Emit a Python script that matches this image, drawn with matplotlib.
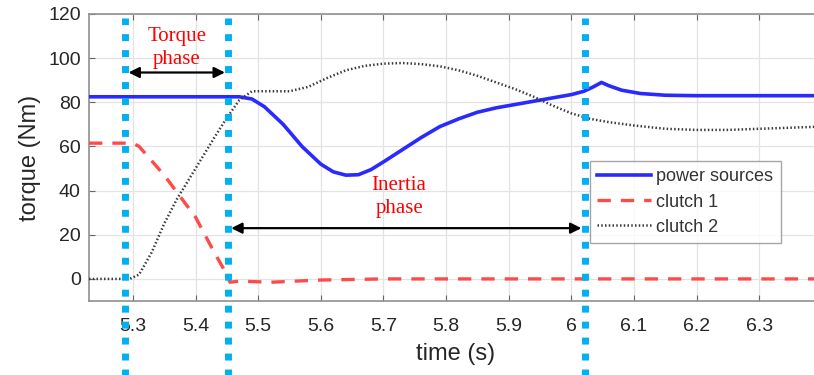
import numpy as np
import matplotlib.pyplot as plt

# traces
t_power = [5.23, 5.30, 5.40, 5.47, 5.49, 5.51, 5.54, 5.57, 5.60, 5.62, 5.64, 5.66,
           5.68, 5.70, 5.73, 5.76, 5.79, 5.82, 5.85, 5.88, 5.91, 5.94, 5.97, 6.00,
           6.02, 6.035, 6.048, 6.06, 6.08, 6.11, 6.15, 6.20, 6.30, 6.40]
power = [82.5, 82.5, 82.5, 82.5, 81.5, 78, 70, 60, 52, 48.5, 47, 47.2,
         49.5, 53, 58.5, 64, 69, 72.5, 75.5, 77.5, 79, 80.5, 82, 83.5,
         85, 87, 89, 87.5, 85.5, 84, 83.2, 83, 83, 83]

t_c1 = [5.23, 5.30, 5.31, 5.35, 5.40, 5.43, 5.45, 5.455, 5.47, 5.52, 5.56, 5.60, 5.70, 6.40]
clutch1 = [61.5, 61.5, 60, 47, 28, 12, 2, -1.5, -1, -1.5, -1, -0.5, 0, 0]

t_c2 = [5.23, 5.295, 5.31, 5.33, 5.35, 5.37, 5.40, 5.43, 5.45, 5.47, 5.49, 5.52,
        5.55, 5.58, 5.61, 5.64, 5.67, 5.70, 5.73, 5.76, 5.79, 5.82, 5.85, 5.88,
        5.91, 5.94, 5.97, 6.00, 6.03, 6.06, 6.10, 6.15, 6.20, 6.25, 6.30, 6.35, 6.40]
clutch2 = [0, 0, 2, 12, 25, 36, 50, 64, 73, 81, 85, 85,
           85, 87, 91, 94.5, 96.5, 97.5, 97.8, 97.3, 96.3, 94.5, 92, 89,
           86, 82.5, 78.5, 75, 72.5, 71, 69.5, 68, 67.5, 67.5, 68, 68.5, 69]

phase_marks = [5.288, 5.452, 6.021]
xticks = [5.3, 5.4, 5.5, 5.6, 5.7, 5.8, 5.9, 6.0, 6.1, 6.2, 6.3]
xticklabels = ['5.3', '5.4', '5.5', '5.6', '5.7', '5.8', '5.9', '6', '6.1', '6.2', '6.3']
yticks = [0, 20, 40, 60, 80, 100, 120]

plt.rcParams['font.family'] = ['Liberation Sans', 'DejaVu Sans']
txt = '#262626'

fig = plt.figure(figsize=(8.14, 3.75), dpi=100)
ax = fig.add_axes([89/814, 74/375, 733/814, 287/375])

ax.plot(t_power, power, color='#2a2aff', lw=2.6, label='power sources', zorder=3)
ax.plot(t_c1, clutch1, color='#ff4a4a', lw=2.4, ls=(0, (4, 3)), label='clutch 1', zorder=3)
ax.plot(t_c2, clutch2, color='#3a3a3a', lw=1.8, ls=(0, (0.6, 0.9)), label='clutch 2', zorder=3)

ax.set_xlim(5.23, 6.40)
ax.set_ylim(-10, 120)
ax.set_xticks(xticks)
ax.set_xticklabels(xticklabels)
ax.set_yticks(yticks)
ax.grid(True, color='#e3e3e3', lw=0.9)
ax.set_axisbelow(True)
ax.tick_params(direction='in', top=True, right=True, colors='#666666',
               labelcolor=txt, labelsize=14, length=4)
ax.tick_params(axis='x', pad=12)
ax.tick_params(axis='y', pad=6)
for s in ax.spines.values():
    s.set_color('#909090')
    s.set_linewidth(1.2)
ax.set_xlabel('time (s)', fontsize=17, color=txt, labelpad=6)
ax.set_ylabel('torque (Nm)', fontsize=17, color=txt, labelpad=5)

leg = ax.legend(loc='upper left', bbox_to_anchor=(0.683, 0.487), fancybox=False,
                edgecolor='#909090', fontsize=13, handlelength=3.0,
                borderaxespad=0, labelspacing=0.45, borderpad=0.4, handletextpad=0.3)
for tx in leg.get_texts():
    tx.set_color('#333333')
leg.set_zorder(5)

# phase boundaries running past the axes
ax.vlines(phase_marks, -45, 118, colors='#00b0f0', lw=5, linestyles=(0, (1.0, 1.3)),
          clip_on=False, zorder=6)

arrow = dict(arrowstyle='<|-|>', color='black', lw=1.6, mutation_scale=16, shrinkA=0, shrinkB=0)
ax.annotate('', xy=(5.293, 93.5), xytext=(5.447, 93.5), arrowprops=arrow, zorder=7)
ax.annotate('', xy=(5.457, 23), xytext=(6.016, 23), arrowprops=arrow, zorder=7)
ax.text(5.37, 104.5, 'Torque\nphase', color='red', fontsize=15, family='Liberation Serif',
        ha='center', va='center', linespacing=1.25)
ax.text(5.725, 37, 'Inertia\nphase', color='red', fontsize=15, family='Liberation Serif',
        ha='center', va='center', linespacing=1.25)

fig.savefig('out.png', dpi=100)
